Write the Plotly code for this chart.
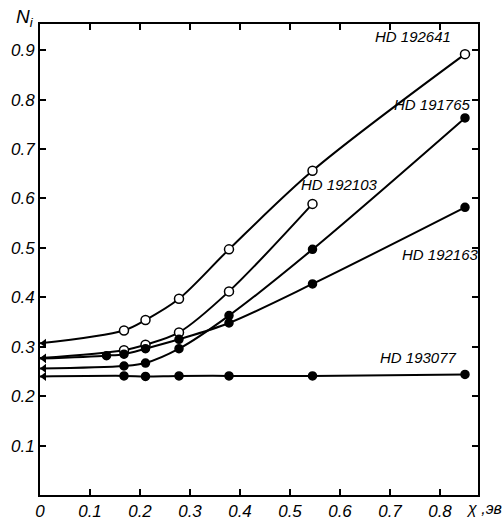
import plotly.graph_objects as go

# energies (eV) of the measured points
chi_all = [0.0, 0.168, 0.211, 0.278, 0.378, 0.545, 0.85]

hd192641 = [0.307, 0.333, 0.354, 0.397, 0.497, 0.656, 0.892]
hd192103_x = [0.0, 0.168, 0.211, 0.278, 0.378, 0.545]
hd192103 = [0.277, 0.293, 0.304, 0.329, 0.412, 0.589]
hd191765 = [0.256, 0.261, 0.267, 0.296, 0.363, 0.497, 0.763]
hd192163_x = [0.0, 0.133, 0.168, 0.211, 0.278, 0.378, 0.545, 0.85]
hd192163 = [0.276, 0.282, 0.285, 0.296, 0.315, 0.348, 0.427, 0.582]
hd193077 = [0.240, 0.241, 0.240, 0.241, 0.241, 0.241, 0.244]

x_ticks = [0, 0.1, 0.2, 0.3, 0.4, 0.5, 0.6, 0.7, 0.8]
x_ticktext = ["0", "0.1", "0.2", "0.3", "0.4", "0.5", "0.6", "0.7", "0.8"]
y_ticks = [0.1, 0.2, 0.3, 0.4, 0.5, 0.6, 0.7, 0.8, 0.9]
y_ticktext = ["0.1", "0.2", "0.3", "0.4", "0.5", "0.6", "0.7", "0.8", "0.9"]

series = [
    ("HD 192641", chi_all, hd192641, True),
    ("HD 192103", hd192103_x, hd192103, True),
    ("HD 191765", chi_all, hd191765, False),
    ("HD 192163", hd192163_x, hd192163, False),
    ("HD 193077", chi_all, hd193077, False),
]

label_pos = {
    "HD 192641": (0.746, 0.927),
    "HD 191765": (0.785, 0.790),
    "HD 192103": (0.598, 0.628),
    "HD 192163": (0.800, 0.486),
    "HD 193077": (0.756, 0.279),
}

FONT = "Liberation Sans, Arial, sans-serif"
ARROW_OFFSET = 0.008

fig = go.Figure()
for name, xs, ys, open_ in series:
    fig.add_trace(go.Scatter(
        x=xs, y=ys, mode="lines", line=dict(color="black", width=2, shape="spline", smoothing=0.9),
        showlegend=False, hoverinfo="skip"))
    fig.add_trace(go.Scatter(
        x=xs[1:], y=ys[1:], mode="markers",
        marker=dict(symbol="circle", size=9 if open_ else 8,
                    color="white" if open_ else "black",
                    line=dict(color="black", width=1.5)),
        showlegend=False, name=name))
    fig.add_trace(go.Scatter(
        x=[xs[0] + ARROW_OFFSET], y=[ys[0]], mode="markers",
        marker=dict(symbol="triangle-left", size=8, color="black"),
        showlegend=False, hoverinfo="skip"))
    lx, ly = label_pos[name]
    fig.add_annotation(x=lx, y=ly, xref="x", yref="y", text=name, showarrow=False,
                       font=dict(family=FONT, size=15, color="black", style="italic"))

fig.add_annotation(x=0.0, y=1.0, xref="paper", yref="paper", xanchor="right", yanchor="bottom",
                   xshift=-4, yshift=-8,
                   text="N<sub>i</sub>", showarrow=False,
                   font=dict(family=FONT, size=19, color="black", style="italic"))
fig.add_annotation(x=1.059, y=0.0, xref="paper", yref="paper", xanchor="right", yanchor="top",
                   yshift=-3,
                   text="χ ,эв", showarrow=False,
                   font=dict(family=FONT, size=16, color="black", style="italic"))

axis_common = dict(showgrid=False, zeroline=False, showline=True, linecolor="black", linewidth=2,
                   mirror="ticks", ticks="inside", ticklen=6, tickwidth=1.5, tickcolor="black",
                   automargin=False,
                   tickfont=dict(family=FONT, size=17, color="black", style="italic"))

fig.update_xaxes(range=[0, 0.876], tickvals=x_ticks, ticktext=x_ticktext, **axis_common)
fig.update_yaxes(range=[0, 0.953], tickvals=y_ticks, ticktext=y_ticktext, **axis_common)

fig.update_layout(width=504, height=522, margin=dict(l=40, r=26, t=24, b=27),
                  plot_bgcolor="white", paper_bgcolor="white")

fig.write_html("out.html", config={"displayModeBar": False},
               post_script="document.body.style.margin='0';document.body.style.overflow='hidden';")
